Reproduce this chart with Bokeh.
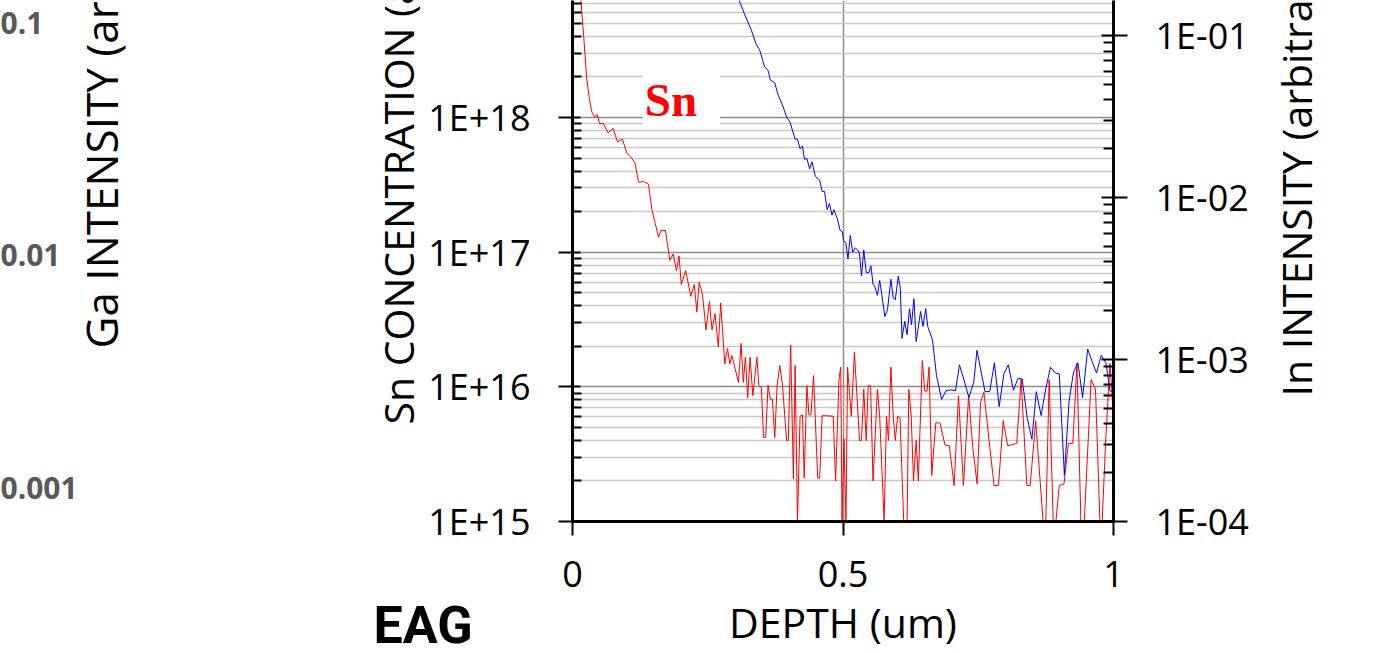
import math
from bokeh.plotting import figure
from bokeh.layouts import row
from bokeh.models import LogAxis, FixedTicker, Range1d, LogScale, Label, Title
from bokeh.embed import file_html
from bokeh.resources import INLINE

# ---------------- data ----------------
sn_depth = [0.004, 0.0155, 0.0218, 0.0262, 0.0312, 0.0357, 0.0407, 0.0457, 0.0499, 0.0573,
            0.0656, 0.0749, 0.0832, 0.0924, 0.0998, 0.1091, 0.1155, 0.1220, 0.1312, 0.1405,
            0.1468, 0.1531, 0.1590, 0.1636, 0.1719, 0.1799, 0.1861, 0.1922, 0.1969, 0.2011,
            0.2092, 0.2187, 0.2250, 0.2299, 0.2342, 0.2403, 0.2468, 0.2531, 0.2579, 0.2634,
            0.2695, 0.2739, 0.2815, 0.2865, 0.2908, 0.2946, 0.3068, 0.3115, 0.3157, 0.3196,
            0.3238, 0.3283, 0.3333, 0.3409, 0.3445, 0.3490, 0.3532, 0.3571, 0.3614, 0.3658,
            0.3695, 0.3739, 0.3782, 0.3832, 0.3882, 0.3957, 0.3989, 0.4033, 0.4083, 0.4115,
            0.4159, 0.4207, 0.4251, 0.4283, 0.4333, 0.4370, 0.4407, 0.4457, 0.4532, 0.4569,
            0.4614, 0.4695, 0.4819, 0.4863, 0.4926, 0.4958, 0.4982, 0.5018, 0.5055, 0.5085,
            0.5153, 0.5211, 0.5305, 0.5342, 0.5384, 0.5429, 0.5466, 0.5510, 0.5555, 0.5636,
            0.5678, 0.5760, 0.5804, 0.5841, 0.5885, 0.5928, 0.5967, 0.6009, 0.6054, 0.6122,
            0.6185, 0.6216, 0.6261, 0.6303, 0.6353, 0.6392, 0.6466, 0.6510, 0.6553, 0.6591,
            0.6641, 0.6715, 0.6791, 0.6885, 0.6965, 0.7054, 0.7135, 0.7227, 0.7322, 0.7403,
            0.7479, 0.7542, 0.7604, 0.7712, 0.7793, 0.7874, 0.7961, 0.8043, 0.8211, 0.8292,
            0.8399, 0.8460, 0.8562, 0.8699, 0.8749, 0.8811, 0.8885, 0.8935, 0.8998, 0.9085,
            0.9166, 0.9248, 0.9324, 0.9397, 0.9460, 0.9586, 0.9667, 0.9749, 0.9791, 0.9854,
            0.9935, 1.0011, 1.0100]
sn_conc = [3.0e19, 7.4e18, 3.5e18, 1.95e18, 1.38e18, 1.10e18, 1.01e18, 1.05e18, 9.0e17, 9.0e17,
           7.7e17, 8.3e17, 6.6e17, 6.9e17, 5.5e17, 5.0e17, 4.6e17, 3.3e17, 3.35e17, 3.2e17,
           2.06e17, 1.63e17, 1.29e17, 1.45e17, 1.45e17, 8.7e16, 9.7e16, 7.3e16, 9.4e16, 5.75e16,
           7.3e16, 4.7e16, 5.75e16, 3.6e16, 6.0e16, 4.85e16, 2.64e16, 4.3e16, 2.64e16, 3.5e16,
           1.98e16, 4.2e16, 1.48e16, 1.93e16, 1.48e16, 1.71e16, 1.08e16, 2.1e16, 1.08e16, 1.66e16,
           8.3e15, 1.66e16, 8.6e15, 1.66e16, 1.02e16, 9.9e15, 4.2e15, 4.2e15, 1.03e16, 8.1e15,
           8.1e15, 4.2e15, 1.02e16, 1.44e16, 1.02e16, 4.0e15, 4.0e15, 2.04e16, 2.08e15, 1.44e16,
           1.0e15, 6.05e15, 6.2e15, 2.1e15, 1.02e16, 6.2e15, 6.2e15, 1.21e16, 2.1e15, 2.1e15,
           6.1e15, 6.1e15, 6.05e15, 2.0e15, 1.14e16, 1.4e16, 1.0e15, 4.1e15, 1.0e15, 1.4e16,
           6.05e15, 1.82e16, 4.0e15, 4.0e15, 9.6e15, 4.0e15, 1.02e16, 1.02e16, 2.0e15, 9.6e15,
           6.05e15, 1.0e15, 6.05e15, 4.0e15, 1.4e16, 6.05e15, 4.0e15, 6.05e15, 5.9e15, 1.0e15,
           1.0e15, 9.6e15, 6.05e15, 2.0e15, 4.0e15, 2.0e15, 1.57e16, 9.3e15, 9.3e15, 1.4e16,
           2.2e15, 5.4e15, 5.4e15, 3.7e15, 3.65e15, 1.85e15, 8.6e15, 1.85e15, 8.6e15, 3.4e15,
           1.9e15, 7.65e15, 9.1e15, 3.6e15, 1.85e15, 1.85e15, 5.6e15, 3.65e15, 3.8e15, 1.14e16,
           1.85e15, 1.85e15, 5.6e15, 1.0e15, 1.0e15, 1.13e16, 1.0e15, 1.0e15, 1.85e15, 1.9e15,
           3.8e15, 3.8e15, 1.5e16, 1.0e15, 1.0e15, 1.13e16, 9.6e15, 1.0e15, 1.0e15, 3.9e15,
           1.5e16, 5.1e15, 3.0e15]

in_depth = [0.2500, 0.2900, 0.3083, 0.3178, 0.3301, 0.3396, 0.3457, 0.3551, 0.3614, 0.3658,
            0.3739, 0.3802, 0.3895, 0.3957, 0.4020, 0.4115, 0.4157, 0.4207, 0.4251, 0.4288,
            0.4333, 0.4383, 0.4427, 0.4488, 0.4569, 0.4614, 0.4658, 0.4708, 0.4750, 0.4795,
            0.4832, 0.4895, 0.4945, 0.4989, 0.5011, 0.5054, 0.5092, 0.5135, 0.5179, 0.5229,
            0.5279, 0.5305, 0.5342, 0.5384, 0.5429, 0.5479, 0.5516, 0.5555, 0.5591, 0.5636,
            0.5678, 0.5717, 0.5773, 0.5823, 0.5885, 0.5928, 0.5967, 0.6022, 0.6059, 0.6091,
            0.6141, 0.6185, 0.6229, 0.6266, 0.6311, 0.6353, 0.6434, 0.6479, 0.6529, 0.6566,
            0.6654, 0.6728, 0.6823, 0.6904, 0.6991, 0.7079, 0.7153, 0.7240, 0.7327, 0.7416,
            0.7477, 0.7542, 0.7625, 0.7712, 0.7799, 0.7887, 0.7974, 0.8056, 0.8150, 0.8237,
            0.8311, 0.8405, 0.8492, 0.8573, 0.8662, 0.8749, 0.8835, 0.8924, 0.8998, 0.9092,
            0.9179, 0.9261, 0.9342, 0.9429, 0.9523, 0.9604, 0.9686, 0.9773, 0.9860, 0.9935,
            1.0011, 1.0100]
in_int = [0.95, 0.24, 0.164, 0.136, 0.109, 0.088, 0.082, 0.064, 0.061, 0.053,
          0.051, 0.0428, 0.0362, 0.0313, 0.0292, 0.0229, 0.0229, 0.0200, 0.0208, 0.0172,
          0.0174, 0.0150, 0.0166, 0.0135, 0.0128, 0.0109, 0.0109, 0.0084, 0.0092, 0.00778,
          0.0084, 0.00741, 0.00628, 0.00612, 0.00543, 0.00522, 0.00417, 0.00583, 0.00459, 0.00489,
          0.00470, 0.00448, 0.00328, 0.00475, 0.00344, 0.00344, 0.00379, 0.00291, 0.00280, 0.00249,
          0.00308, 0.00252, 0.00184, 0.00203, 0.00313, 0.00240, 0.00234, 0.00328, 0.00277, 0.00135,
          0.00172, 0.00142, 0.00206, 0.00164, 0.00237, 0.00129, 0.00198, 0.00160, 0.00206, 0.00160,
          0.00132, 0.000796, 0.000568, 0.000641, 0.000650, 0.000641, 0.000927, 0.000740, 0.000582, 0.000723,
          0.00114, 0.000875, 0.000633, 0.000635, 0.000955, 0.000512, 0.000815, 0.000927, 0.000646, 0.000766,
          0.000757, 0.000437, 0.000322, 0.000633, 0.000451, 0.000663, 0.000896, 0.000826, 0.000815, 0.000193,
          0.000555, 0.000835, 0.000955, 0.000582, 0.00116, 0.000973, 0.000826, 0.00106, 0.000955, 0.000641,
          0.000625, 0.0008]

x_ticks = [0, 0.5, 1]
x_labels = ["0", "0.5", "1"]
sn_ticks = [1e15, 1e16, 1e17, 1e18, 1e19]
sn_labels = ["1E+15", "1E+16", "1E+17", "1E+18", "1E+19"]
in_ticks = [1e-4, 1e-3, 1e-2, 1e-1, 1.0]
in_labels = ["1E-04", "1E-03", "1E-02", "1E-01", "1E+00"]
ga_ticks = [0.001, 0.01, 0.1]
ga_labels = ["0.001", "0.01", "0.1"]

assert len(sn_depth) == len(sn_conc)
assert len(in_depth) == len(in_int)

FONT = "Open Sans"
TICK_SIZE = "36px"
TITLE_SIZE = "41px"
H = 653
FRAME_BOTTOM = 521


def minor_between(ticks):
    out = []
    for t in ticks[:-1]:
        out += [t * k for k in range(2, 10)]
    return out


def style_axis(ax, tick_in, tick_out, minor_in):
    ax.axis_line_color = "black"
    ax.axis_line_width = 3
    ax.major_tick_line_color = "black"
    ax.major_tick_line_width = 2
    ax.major_tick_in = tick_in
    ax.major_tick_out = tick_out
    ax.minor_tick_line_color = "black"
    ax.minor_tick_line_width = 2
    ax.minor_tick_in = minor_in
    ax.minor_tick_out = 0
    ax.major_label_text_font = FONT
    ax.major_label_text_font_size = TICK_SIZE
    ax.major_label_text_color = "black"
    ax.major_label_standoff = 28


def text_panel(w):
    f = figure(width=w, height=H, x_range=Range1d(0, w), y_range=Range1d(0, FRAME_BOTTOM),
               x_axis_location=None, y_axis_location=None,
               output_backend="svg", toolbar_location=None,
               min_border_left=0, min_border_right=0, min_border_top=0,
               min_border_bottom=H - FRAME_BOTTOM, outline_line_color=None)
    f.grid.visible = False
    return f


def vtext(x, y, text, size=TITLE_SIZE):
    # rotated axis title; its baseline lands about 0.44 em right of the anchor
    return Label(x=x, y=y, x_units="screen", y_units="screen", angle=math.pi / 2,
                 text=text, text_font=FONT, text_font_size=size,
                 text_color="black", text_align="left", text_baseline="alphabetic")


# ---------------- far left: Ga axis of the neighbouring panel ----------------
W_A = 80
pA = figure(width=W_A, height=H, y_axis_type="log",
            y_range=Range1d(10 ** -3.146, 10 ** -0.905), x_range=Range1d(0, 1),
            x_axis_location=None, y_axis_location="right",
            output_backend="svg", toolbar_location=None,
            min_border_left=0, min_border_right=W_A - 1,
            min_border_top=0, min_border_bottom=H - FRAME_BOTTOM, outline_line_color=None)
pA.grid.visible = False
ga_ax = pA.yaxis[0]
ga_ax.ticker = FixedTicker(ticks=ga_ticks)
ga_ax.major_label_overrides = dict(zip(ga_ticks, ga_labels))
ga_ax.axis_line_color = None
ga_ax.major_tick_line_color = None
ga_ax.minor_tick_line_color = None
ga_ax.major_tick_in = 0
ga_ax.major_tick_out = 0
ga_ax.major_label_standoff = 0
ga_ax.major_label_text_font = FONT
ga_ax.major_label_text_font_size = "30px"
ga_ax.major_label_text_font_style = "bold"
ga_ax.major_label_text_color = "#595959"

# Ga axis title strip
W_T1 = 282
pT1 = text_panel(W_T1)
pT1.add_layout(vtext(100 - W_A, FRAME_BOTTOM - 348, "Ga INTENSITY (arbitrary units)", "44px"))

# ---------------- main plot ----------------
X0 = W_A + W_T1
W_MAIN = 1260 - X0
p = figure(width=W_MAIN, height=H, x_range=Range1d(0, 1),
           y_range=Range1d(1e15, 10 ** 18.869), y_axis_type="log",
           output_backend="svg", toolbar_location=None,
           min_border_left=572 - X0, min_border_right=1260 - 1113,
           min_border_top=0, min_border_bottom=H - FRAME_BOTTOM,
           outline_line_color=None)
p.extra_y_ranges = {"in": Range1d(1e-4, 10 ** -0.784)}
p.extra_y_scales = {"in": LogScale()}

sn_ticker = FixedTicker(ticks=sn_ticks, minor_ticks=minor_between(sn_ticks))
in_ticker = FixedTicker(ticks=in_ticks, minor_ticks=minor_between(in_ticks))
x_ticker = FixedTicker(ticks=x_ticks)

yax = p.yaxis[0]
yax.ticker = sn_ticker
yax.major_label_overrides = dict(zip(sn_ticks, sn_labels))
style_axis(yax, 8, 14, 9)

xax = p.xaxis[0]
xax.ticker = x_ticker
xax.major_label_overrides = dict(zip(x_ticks, x_labels))
style_axis(xax, 0, 14, 0)
xax.major_label_standoff = 25
xax.axis_label = "DEPTH (um)"
xax.axis_label_standoff = 4
xax.axis_label_text_font = FONT
xax.axis_label_text_font_size = TITLE_SIZE
xax.axis_label_text_font_style = "normal"
xax.axis_label_text_color = "black"

in_ax = LogAxis(y_range_name="in", ticker=in_ticker,
                major_label_overrides=dict(zip(in_ticks, in_labels)))
style_axis(in_ax, 12, 14, 10)
p.add_layout(in_ax, "right")

p.add_layout(Title(text="Sn CONCENTRATION (atoms/cc)", align="left", offset=97,
                   vertical_align="bottom", standoff=0, text_font=FONT,
                   text_font_size=TITLE_SIZE, text_font_style="normal",
                   text_color="black"), "left")

# logo text under the plot, pulled up into the axis strip
p.add_layout(Title(text="EAG", align="left", offset=-199, vertical_align="top",
                   standoff=-116, text_font="Roboto", text_font_style="bold",
                   text_font_size="52px", text_color="black"), "below")

p.ygrid[0].ticker = sn_ticker
p.ygrid.grid_line_color = "#8c8c8c"
p.ygrid.grid_line_width = 1.5
p.ygrid.minor_grid_line_color = "#c8c8c8"
p.ygrid.minor_grid_line_width = 1.5
p.xgrid[0].ticker = x_ticker
p.xgrid.grid_line_color = "#8c8c8c"
p.xgrid.grid_line_width = 1.5

p.line(sn_depth, sn_conc, line_color="#ff0000", line_width=1)
p.line(in_depth, in_int, line_color="#0000ff", line_width=1, y_range_name="in")

p.add_layout(Label(x=0.130, y=1.36e18, text="Sn", text_font="Liberation Serif",
                   text_font_style="bold", text_font_size="47px", text_color="#ff0000",
                   text_baseline="alphabetic", background_fill_color="white",
                   padding=dict(top=0, right=23, bottom=0, left=2)))

# ---------------- right strip: In axis title ----------------
W_T3 = 1382 - 1260
pT3 = text_panel(W_T3)
pT3.add_layout(vtext(1295 - 1260, FRAME_BOTTOM - 396, "In INTENSITY (arbitrary units)"))

layout = row(pA, pT1, p, pT3, spacing=0)
open("out.html", "w").write(file_html(layout, INLINE))
